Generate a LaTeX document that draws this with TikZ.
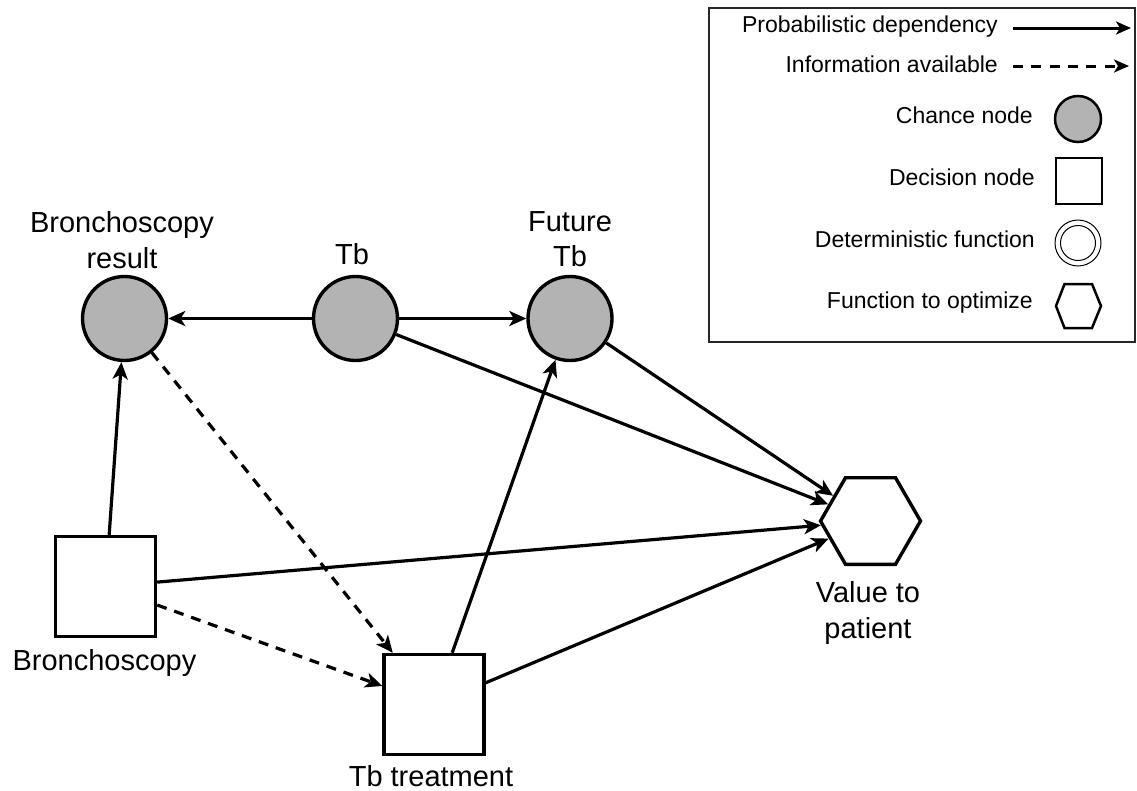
\documentclass[tikz,border=0pt]{standalone}
\usepackage{fontspec}
\setmainfont{Liberation Sans}
\usetikzlibrary{arrows.meta,shapes.geometric}
\definecolor{chancegray}{RGB}{179,179,179}
\tikzset{
  chance/.style={circle, draw, line width=3.4pt, fill=chancegray, minimum size=84pt, inner sep=0pt},
  decision/.style={rectangle, draw, line width=3.4pt, fill=white, minimum size=100pt, inner sep=0pt},
  utility/.style={regular polygon, regular polygon sides=6, draw, line width=3.4pt, fill=white, minimum size=100pt, inner sep=0pt},
  lbl/.style={font=\fontsize{29}{35.5}\selectfont, align=center, inner sep=0pt},
  legtext/.style={font=\fontsize{23}{27}\selectfont, inner sep=0pt, anchor=base east},
  dep/.style={line width=3.2pt, -{Stealth[length=17pt,width=15pt,inset=4.5pt]}},
  info/.style={dep, dash pattern=on 10pt off 8pt},
}
\begin{document}
\begin{tikzpicture}[x=1pt,y=-1pt]
\useasboundingbox (0,0) rectangle (1137,790);
\fill[white] (0,0) rectangle (1137,790);

% influence diagram nodes
\node[chance] (br) at (124.5,318.5) {};
\node[chance] (tb) at (355.5,318.5) {};
\node[chance] (ftb) at (570,318.5) {};
\node[decision] (bron) at (105.5,586.5) {};
\node[decision] (treat) at (434,704.5) {};
\node[utility] (val) at (870.5,521) {};

% node labels
\node[lbl, anchor=base] (brl) at (122,268) {Bronchoscopy\\result};
\node[lbl, anchor=base] (tbl) at (352,264) {Tb};
\node[lbl, anchor=base] (ftbl) at (570,266.5) {Future\\Tb};
\node[lbl, anchor=north] (vall) at (868,581.5) {Value to\\patient};
\node[lbl, anchor=base] (bronl) at (104.5,670) {Bronchoscopy};
\node[lbl, anchor=base] (treatl) at (431,786) {Tb treatment};

% dependencies
\draw[dep] (tb) -- (br);
\draw[dep] (tb) -- (ftb);
\draw[dep] (tb) -- (val);
\draw[dep] (ftb) -- (val);
\draw[dep] (bron) -- (br);
\draw[dep] (bron) -- (val);
\draw[dep] (treat) -- (ftb);
\draw[dep] (treat) -- (val);
% information links
\draw[info] (br) -- (treat);
\draw[info] (bron) -- (treat);

% legend
\node[draw=black!85, line width=1.5pt, minimum width=426pt, minimum height=334pt, inner sep=0pt] (legend) at (922,175) {};
\node[legtext] (l1) at (998,32) {Probabilistic dependency};
\node[legtext] (l2) at (998,72) {Information available};
\node[legtext] (l3) at (1033,123) {Chance node};
\node[legtext] (l4) at (1035,185) {Decision node};
\node[legtext] (l5) at (1035,247) {Deterministic function};
\node[legtext] (l6) at (1033,308) {Function to optimize};
\coordinate (pd0) at (1013,28);
\coordinate (pd1) at (1131,28);
\coordinate (ia0) at (1013,66);
\coordinate (ia1) at (1129,66);
\draw[line width=3pt, -{Stealth[length=15pt,width=13pt,inset=4pt]}] (pd0) -- (pd1);
\draw[line width=3pt, dash pattern=on 10pt off 8.3pt, -{Stealth[length=15pt,width=13pt,inset=4pt]}] (ia0) -- (ia1);
\node[circle, draw, line width=2.5pt, fill=chancegray, minimum size=46pt, inner sep=0pt] (lchance) at (1078,119) {};
\node[rectangle, draw, line width=2.5pt, minimum size=46pt, inner sep=0pt] (ldec) at (1079,181) {};
\node[circle, draw, line width=1pt, minimum size=46pt, inner sep=0pt] (ldet) at (1078,243) {};
\draw[line width=1pt] (ldet.center) circle[radius=17.5pt];
\draw[line width=2.5pt, line join=miter] (1056,306) -- (1064.5,284) -- (1092,284) -- (1101,306) -- (1092,328) -- (1064.5,328) -- cycle;
\end{tikzpicture}
\end{document}
